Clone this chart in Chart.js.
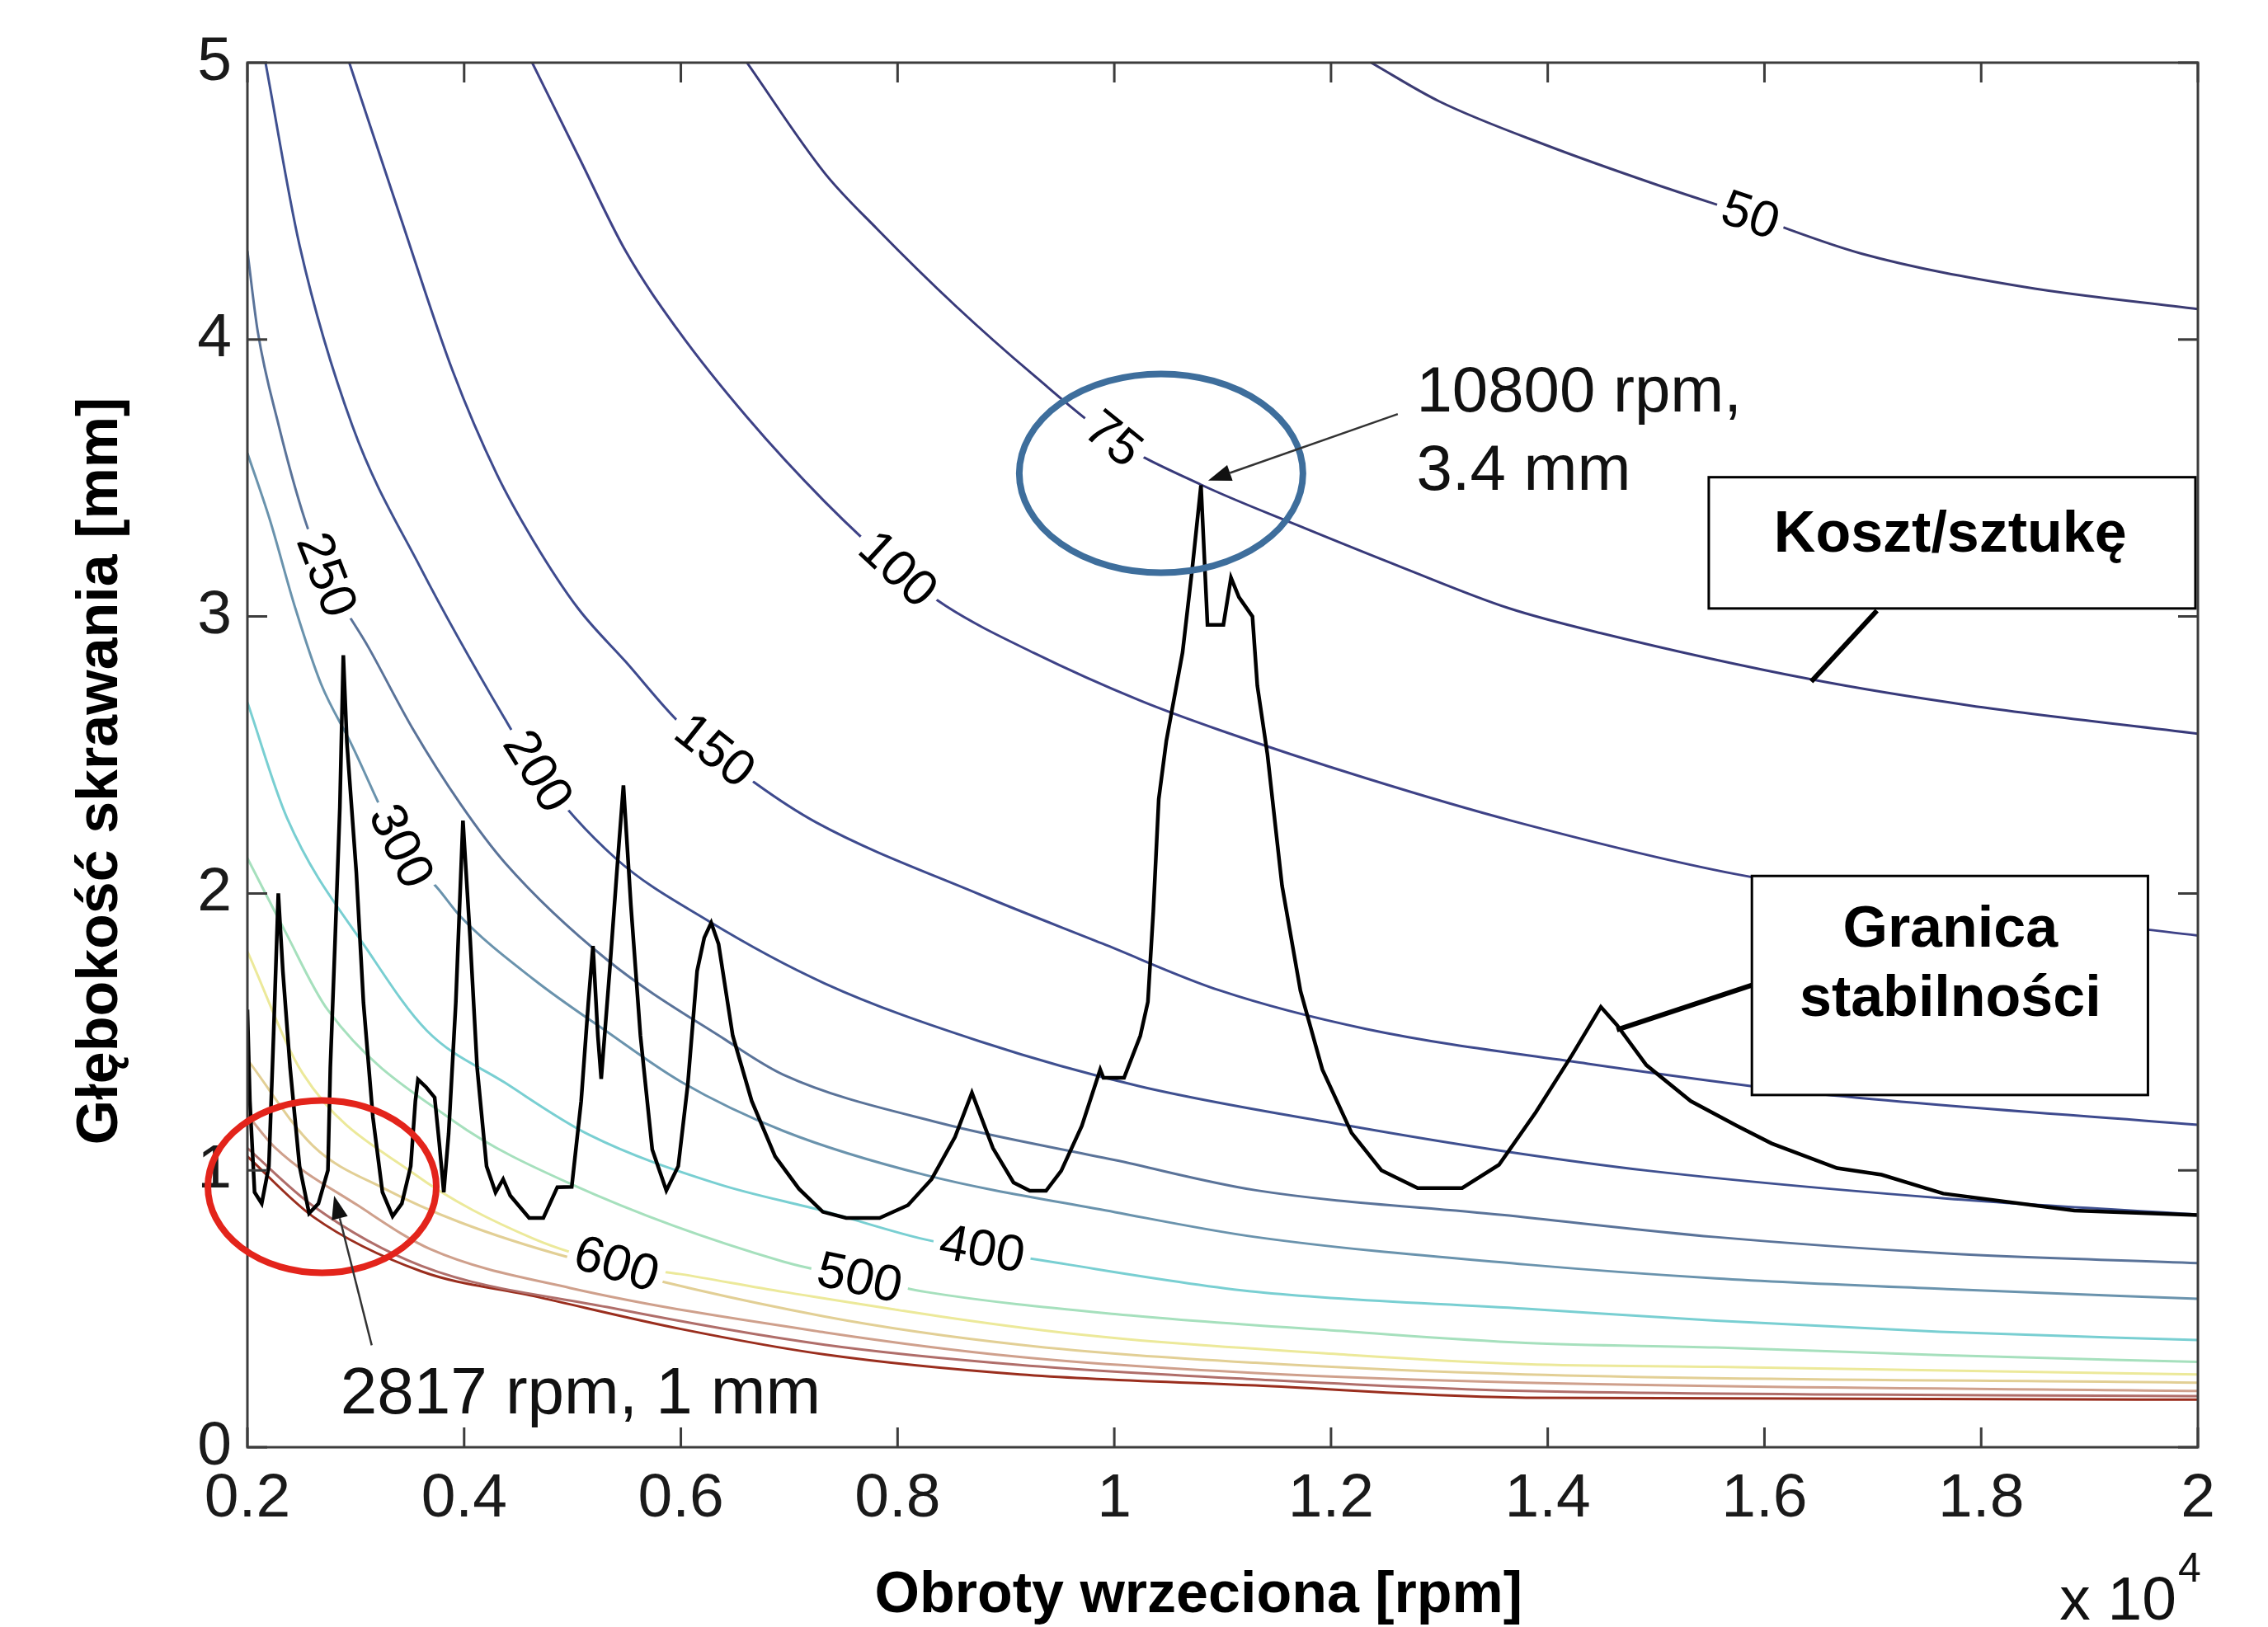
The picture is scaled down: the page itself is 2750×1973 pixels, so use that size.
<!DOCTYPE html>
<html>
<head>
<meta charset="utf-8">
<title>Koszt/sztukę i granica stabilności</title>
<script src="https://cdn.jsdelivr.net/npm/chart.js@4.4.1/dist/chart.umd.min.js"></script>
<style>
  html, body { margin: 0; padding: 0; background: #fff; }
  #wykres { display: block; }
</style>
</head>
<body>
<canvas id="wykres" width="2750" height="1973"></canvas>
<script>
// osie (obroty w jednostkach 10^4 rpm, glebokosc w mm)
var xTicks = [0.2, 0.4, 0.6, 0.8, 1, 1.2, 1.4, 1.6, 1.8, 2];
var yTicks = [0, 1, 2, 3, 4, 5];

// granica stabilnosci
var lobe = [[0.200,1.58],[0.2023,1.25],[0.2066,0.921],[0.2132,0.88],[0.2198,1.015],[0.2241,1.486],[0.2285,2.0],
  [0.2327,1.72],[0.2394,1.37],[0.2481,1.015],[0.2569,0.845],[0.2655,0.88],[0.2743,1.0],[0.2765,1.37],[0.281,1.84],
  [0.2853,2.31],[0.2885,2.86],[0.2918,2.546],[0.3005,2.076],[0.3071,1.605],[0.3158,1.192],[0.3246,0.921],[0.334,0.834],
  [0.3425,0.88],[0.3507,1.015],[0.355,1.25],[0.3574,1.328],[0.365,1.30],[0.3728,1.263],[0.377,1.10],[0.3812,0.921],
  [0.3857,1.133],[0.3923,1.605],[0.3989,2.263],[0.4055,1.84],[0.412,1.37],[0.4207,1.015],[0.429,0.92],[0.436,0.968],
  [0.4425,0.909],[0.46,0.828],[0.4731,0.828],[0.486,0.939],[0.4993,0.94],[0.508,1.25],[0.5146,1.605],[0.5189,1.81],
  [0.5234,1.486],[0.5265,1.33],[0.5343,1.72],[0.5409,2.076],[0.547,2.39],[0.5539,1.957],[0.5627,1.486],[0.5736,1.075],
  [0.5866,0.927],[0.5976,1.015],[0.6064,1.31],[0.615,1.72],[0.6216,1.84],[0.628,1.894],[0.6348,1.817],[0.6479,1.486],
  [0.6654,1.25],[0.687,1.05],[0.709,0.933],[0.731,0.85],[0.7526,0.828],[0.7834,0.828],[0.8096,0.874],[0.8314,0.968],
  [0.853,1.12],[0.8686,1.28],[0.888,1.08],[0.907,0.956],[0.922,0.926],[0.937,0.926],[0.951,0.998],[0.970,1.16],
  [0.987,1.364],[0.990,1.334],[1.009,1.334],[1.024,1.486],[1.031,1.608],[1.036,1.935],[1.041,2.34],[1.048,2.55],
  [1.063,2.87],[1.072,3.175],[1.080,3.474],[1.086,2.97],[1.1007,2.97],[1.1077,3.14],[1.115,3.07],[1.1275,3.0],
  [1.132,2.75],[1.1413,2.503],[1.1548,2.028],[1.1718,1.648],[1.192,1.364],[1.219,1.135],[1.2465,1.0],[1.28,0.936],
  [1.321,0.936],[1.355,1.02],[1.389,1.21],[1.423,1.42],[1.449,1.59],[1.4638,1.525],[1.491,1.38],[1.532,1.25],
  [1.575,1.16],[1.6066,1.097],[1.667,1.008],[1.708,0.984],[1.765,0.916],[1.886,0.855],[2.0,0.838]];

// poziomice kosztu na sztuke
var levels = [50, 75, 100, 150, 200, 250, 300, 400, 500, 600, 700, 800, 900, 1000];
var c50 = [[1.237,5.0],[1.30,4.86],[1.40,4.70],[1.50,4.56],[1.585,4.45],[1.69,4.31],[1.84,4.19],[2.0,4.11]];
var c75 = [[0.661,5.0],[0.733,4.60],[0.781,4.40],[0.854,4.12],[0.926,3.87],[0.999,3.64],[1.08,3.476],[1.17,3.328],
  [1.267,3.175],[1.364,3.03],[1.449,2.94],[1.643,2.773],[1.789,2.679],[2.0,2.577]];
var c100 = [[0.4628,5.0],[0.5055,4.662],[0.549,4.32],[0.598,4.03],[0.661,3.72],[0.733,3.414],[0.80,3.17],[0.8445,3.038],
  [0.926,2.868],[1.024,2.696],[1.097,2.59],[1.233,2.415],[1.369,2.26],[1.573,2.07],[1.776,1.952],[2.0,1.848]];
var c150 = [[0.294,5.0],[0.3406,4.45],[0.3895,3.886],[0.430,3.515],[0.464,3.273],[0.505,3.03],[0.549,2.837],[0.60,2.611],
  [0.668,2.40],[0.725,2.256],[0.876,1.996],[0.989,1.819],[1.097,1.65],[1.233,1.51],[1.437,1.385],[1.641,1.28],[2.0,1.164]];
var c200 = [[0.2167,5.0],[0.2483,4.337],[0.2969,3.688],[0.3599,3.175],[0.4376,2.63],[0.4677,2.44],[0.5397,2.127],
  [0.6247,1.902],[0.7327,1.675],[0.8757,1.466],[1.024,1.303],[1.218,1.16],[1.358,1.07],[1.494,0.998],[1.7685,0.898],[2.0,0.84]];
var c250 = [[0.2,4.32],[0.2095,4.03],[0.229,3.688],[0.2533,3.346],[0.2726,3.15],[0.3121,2.886],[0.3528,2.593],[0.3971,2.32],
  [0.4378,2.11],[0.532,1.76],[0.6417,1.47],[0.6947,1.345],[0.839,1.171],[1.0006,1.037],[1.1306,0.928],[1.358,0.839],
  [1.555,0.759],[1.7685,0.70],[2.0,0.665]];
var c300 = [[0.2,3.59],[0.2204,3.353],[0.2442,3.03],[0.268,2.756],[0.2951,2.546],[0.3415,2.17],[0.3766,2.014],[0.3963,1.918],
  [0.464,1.69],[0.532,1.50],[0.6,1.32],[0.6947,1.142],[0.8256,0.983],[1.0006,0.849],[1.1306,0.759],[1.3796,0.66],
  [1.555,0.61],[1.7685,0.571],[2.0,0.536]];
var c400 = [[0.2,2.69],[0.2366,2.272],[0.3121,1.788],[0.3657,1.504],[0.4378,1.316],[0.515,1.129],[0.634,0.951],[0.7327,0.852],
  [0.8257,0.75],[0.957,0.66],[1.1306,0.561],[1.3796,0.50],[1.555,0.457],[1.7615,0.417],[2.0,0.387]];
var c500 = [[0.2,2.127],[0.234,1.869],[0.274,1.58],[0.3903,1.178],[0.4982,0.951],[0.6947,0.67],[0.765,0.61],[0.8257,0.561],
  [1.0006,0.481],[1.219,0.417],[1.3796,0.377],[1.555,0.36],[1.7615,0.333],[2.0,0.308]];
var c600 = [[0.2,1.79],[0.251,1.35],[0.3528,0.99],[0.464,0.753],[0.5405,0.66],[0.6,0.625],[0.6947,0.561],[0.957,0.412],
  [1.219,0.333],[1.3796,0.30],[1.555,0.29],[2.0,0.263]];
var c700 = [[0.2,1.40],[0.2604,1.089],[0.3279,0.931],[0.3958,0.813],[0.498,0.684],[0.7327,0.472],[0.913,0.37],[1.13,0.305],
  [1.3796,0.263],[2.0,0.233]];
var c800 = [[0.2,1.20],[0.2263,1.079],[0.302,0.873],[0.369,0.715],[0.498,0.575],[0.7327,0.415],[0.913,0.326],[1.13,0.268],
  [1.3796,0.233],[2.0,0.203]];
var c900 = [[0.2,1.08],[0.2604,0.872],[0.3606,0.655],[0.532,0.506],[0.7327,0.37],[0.913,0.297],[1.13,0.245],[1.3796,0.203],
  [2.0,0.185]];
var c1000 = [[0.2,1.05],[0.2608,0.832],[0.3606,0.635],[0.464,0.546],[0.6,0.427],[0.7327,0.335],[0.913,0.263],[1.13,0.223],
  [1.3796,0.179],[2.0,0.172]];
var contours = [c50, c75, c100, c150, c200, c250, c300, c400, c500, c600, c700, c800, c900, c1000];

var levelColors = ['#3b3b73', '#383a7a', '#3e4287', '#3e4a8e', '#3f5090', '#5a7399', '#6a93ad',
  '#79cfd2', '#a6e0bd', '#ece99a', '#e2cf95', '#cfa08c', '#b06e6a', '#9a2e1e'];

// gdzie stoja etykiety poziomic (poziom, obroty)
var contourLabels = [[50, 1.587], [75, 0.999], [100, 0.80], [150, 0.631], [200, 0.4677], [250, 0.2726],
  [300, 0.3415], [400, 0.878], [500, 0.765], [600, 0.5405]];

var FONT = "'Liberation Sans', Arial, sans-serif";

function toXY(arr) {
  return arr.map(function (p) { return { x: p[0], y: p[1] }; });
}

var datasets = [{
  label: 'Granica stabilności',
  data: toXY(lobe),
  borderColor: '#000',
  borderWidth: 4.5,
  tension: 0,
  pointRadius: 0
}];
for (var i = 0; i < levels.length; i++) {
  datasets.push({
    label: 'K = ' + levels[i],
    data: toXY(contours[i]),
    borderColor: levelColors[i],
    borderWidth: 3,
    cubicInterpolationMode: 'monotone',
    pointRadius: 0
  });
}

function pix(chart, x, y) {
  return [chart.scales.x.getPixelForValue(x), chart.scales.y.getPixelForValue(y)];
}

// ramka z kreskami do srodka, jak w matlabie
var frame = {
  id: 'frame',
  afterDatasetsDraw: function (chart) {
    var ctx = chart.ctx, a = chart.chartArea, t = 24;
    ctx.save();
    ctx.strokeStyle = '#3c3c3c';
    ctx.lineWidth = 3;
    ctx.strokeRect(a.left, a.top, a.right - a.left, a.bottom - a.top);
    ctx.beginPath();
    xTicks.forEach(function (v) {
      var x = chart.scales.x.getPixelForValue(v);
      ctx.moveTo(x, a.bottom); ctx.lineTo(x, a.bottom - t);
      ctx.moveTo(x, a.top); ctx.lineTo(x, a.top + t);
    });
    yTicks.forEach(function (v) {
      var y = chart.scales.y.getPixelForValue(v);
      ctx.moveTo(a.left, y); ctx.lineTo(a.left + t, y);
      ctx.moveTo(a.right, y); ctx.lineTo(a.right - t, y);
    });
    ctx.stroke();
    ctx.restore();
  }
};

// etykiety na poziomicach, rysowane zanim pojdzie czarna linia
var labels = {
  id: 'contourLabels',
  afterDatasetDraw: function (chart, args) {
    if (args.index !== 1) return;
    var ctx = chart.ctx;
    ctx.save();
    ctx.font = '62px ' + FONT;
    contourLabels.forEach(function (lab) {
      var k = levels.indexOf(lab[0]);
      var d = contours[k];
      for (var j = 0; j < d.length - 1; j++) {
        if (lab[1] >= d[j][0] && lab[1] <= d[j + 1][0]) break;
      }
      var p0 = pix(chart, d[j][0], d[j][1]);
      var p1 = pix(chart, d[j + 1][0], d[j + 1][1]);
      var s = (lab[1] - d[j][0]) / (d[j + 1][0] - d[j][0]);
      var px = p0[0] + s * (p1[0] - p0[0]);
      var py = p0[1] + s * (p1[1] - p0[1]);
      var ang = Math.atan2(p1[1] - p0[1], p1[0] - p0[0]);
      var txt = String(lab[0]);
      var w = ctx.measureText(txt).width;
      ctx.save();
      ctx.translate(px, py);
      ctx.rotate(ang);
      ctx.fillStyle = '#fff';
      ctx.fillRect(-w / 2 - 8, -26, w + 16, 52);
      ctx.fillStyle = '#000';
      ctx.textAlign = 'center';
      ctx.textBaseline = 'middle';
      ctx.fillText(txt, 0, 2);
      ctx.restore();
    });
    ctx.restore();
  }
};

// opisy: elipsy, strzalki, ramki
var notes = {
  ellipses: [
    { cx: 1.0432, cy: 3.517, rx: 0.1309, ry: 0.359, color: '#3e6e9c' },
    { cx: 0.2689, cy: 0.941, rx: 0.1054, ry: 0.311, color: '#e3241b' }
  ],
  arrows: [
    { from: [1.2616, 3.731], to: [1.0866, 3.491] },
    { from: [0.3147, 0.368], to: [0.2800, 0.908] }
  ],
  texts: [
    { t: '10800 rpm,', x: 1.2788, y: 3.740, size: 78 },
    { t: '3.4 mm', x: 1.2788, y: 3.457, size: 78 },
    { t: '2817 rpm, 1 mm', x: 0.2858, y: 0.122, size: 80 }
  ],
  boxes: [
    { x1: 1.5486, x2: 1.9977, y1: 3.503, y2: 3.029, lines: [['Koszt/sztukę', 3.234]], cx: 1.7715,
      from: [1.7038, 3.021], to: [1.6432, 2.765] },
    { x1: 1.5884, x2: 1.9539, y1: 2.063, y2: 1.272, lines: [['Granica', 1.808], ['stabilności', 1.557]], cx: 1.7715,
      from: [1.5897, 1.670], to: [1.4637, 1.507] }
  ]
};

var annot = {
  id: 'annot',
  afterDraw: function (chart) {
    var ctx = chart.ctx;
    ctx.save();

    notes.boxes.forEach(function (b) {
      var a = pix(chart, b.from[0], b.from[1]), c = pix(chart, b.to[0], b.to[1]);
      ctx.strokeStyle = '#000';
      ctx.lineWidth = 6;
      ctx.beginPath(); ctx.moveTo(a[0], a[1]); ctx.lineTo(c[0], c[1]); ctx.stroke();
      var p = pix(chart, b.x1, b.y1), q = pix(chart, b.x2, b.y2);
      ctx.fillStyle = '#fff';
      ctx.fillRect(p[0], p[1], q[0] - p[0], q[1] - p[1]);
      ctx.lineWidth = 3;
      ctx.strokeRect(p[0], p[1], q[0] - p[0], q[1] - p[1]);
      ctx.fillStyle = '#000';
      ctx.font = 'bold 70px ' + FONT;
      ctx.textAlign = 'center';
      ctx.textBaseline = 'alphabetic';
      b.lines.forEach(function (l) {
        var r = pix(chart, b.cx, l[1]);
        ctx.fillText(l[0], r[0], r[1]);
      });
    });

    notes.ellipses.forEach(function (e) {
      var c = pix(chart, e.cx, e.cy);
      var rx = Math.abs(chart.scales.x.getPixelForValue(e.cx + e.rx) - c[0]);
      var ry = Math.abs(chart.scales.y.getPixelForValue(e.cy + e.ry) - c[1]);
      ctx.strokeStyle = e.color;
      ctx.lineWidth = 8;
      ctx.beginPath();
      ctx.ellipse(c[0], c[1], rx, ry, 0, 0, Math.PI * 2);
      ctx.stroke();
    });

    notes.arrows.forEach(function (ar) {
      var a = pix(chart, ar.from[0], ar.from[1]), b = pix(chart, ar.to[0], ar.to[1]);
      var ang = Math.atan2(b[1] - a[1], b[0] - a[0]), h = 28, w = 10;
      ctx.strokeStyle = '#333';
      ctx.fillStyle = '#111';
      ctx.lineWidth = 2.5;
      ctx.beginPath(); ctx.moveTo(a[0], a[1]);
      ctx.lineTo(b[0] - h * Math.cos(ang), b[1] - h * Math.sin(ang)); ctx.stroke();
      ctx.beginPath();
      ctx.moveTo(b[0], b[1]);
      ctx.lineTo(b[0] - h * Math.cos(ang) + w * Math.sin(ang), b[1] - h * Math.sin(ang) - w * Math.cos(ang));
      ctx.lineTo(b[0] - h * Math.cos(ang) - w * Math.sin(ang), b[1] - h * Math.sin(ang) + w * Math.cos(ang));
      ctx.closePath(); ctx.fill();
    });

    ctx.fillStyle = '#111';
    ctx.textAlign = 'left';
    ctx.textBaseline = 'alphabetic';
    notes.texts.forEach(function (t) {
      var p = pix(chart, t.x, t.y);
      ctx.font = t.size + 'px ' + FONT;
      ctx.fillText(t.t, p[0], p[1]);
    });

    // mnoznik osi x
    var a = chart.chartArea;
    ctx.font = '75px ' + FONT;
    ctx.textAlign = 'right';
    ctx.fillText('x 10', a.right - 26, 1964);
    ctx.font = '50px ' + FONT;
    ctx.textAlign = 'left';
    ctx.fillText('4', a.right - 24, 1918);
    ctx.restore();
  }
};

new Chart(document.getElementById('wykres'), {
  type: 'scatter',
  data: { datasets: datasets },
  options: {
    responsive: false,
    devicePixelRatio: 1,
    animation: false,
    showLine: true,
    layout: { padding: { left: 0, right: 85, top: 76, bottom: 0 } },
    plugins: { legend: { display: false }, tooltip: { enabled: false } },
    scales: {
      x: {
        type: 'linear',
        min: 0.2,
        max: 2,
        afterBuildTicks: function (s) { s.ticks = xTicks.map(function (v) { return { value: v }; }); },
        afterFit: function (s) { s.height = 218; },
        grid: { display: false, drawTicks: false },
        border: { display: false },
        ticks: {
          autoSkip: false, maxRotation: 0, minRotation: 0, padding: 18, color: '#1a1a1a',
          font: { family: FONT, size: 75 },
          callback: function (v) { return String(+v.toFixed(1)); }
        },
        title: {
          // spacje na koncu przesuwaja napis troche w lewo, jak w oryginale
          display: true, text: 'Obroty wrzeciona [rpm]   ', color: '#000',
          font: { family: FONT, size: 70, weight: 'bold', lineHeight: 1 },
          padding: { top: 0, bottom: 2 }
        }
      },
      y: {
        type: 'linear',
        min: 0,
        max: 5,
        afterBuildTicks: function (s) { s.ticks = yTicks.map(function (v) { return { value: v }; }); },
        afterFit: function (s) { s.width = 300; },
        grid: { display: false, drawTicks: false },
        border: { display: false },
        ticks: {
          autoSkip: false, padding: 19, color: '#1a1a1a',
          font: { family: FONT, size: 75 }
        },
        title: {
          display: true, text: 'Głębokość skrawania [mm]  ', color: '#000',
          font: { family: FONT, size: 70, weight: 'bold', lineHeight: 1 },
          padding: { top: 88, bottom: 0 }
        }
      }
    }
  },
  plugins: [frame, labels, annot]
});
</script>
</body>
</html>
